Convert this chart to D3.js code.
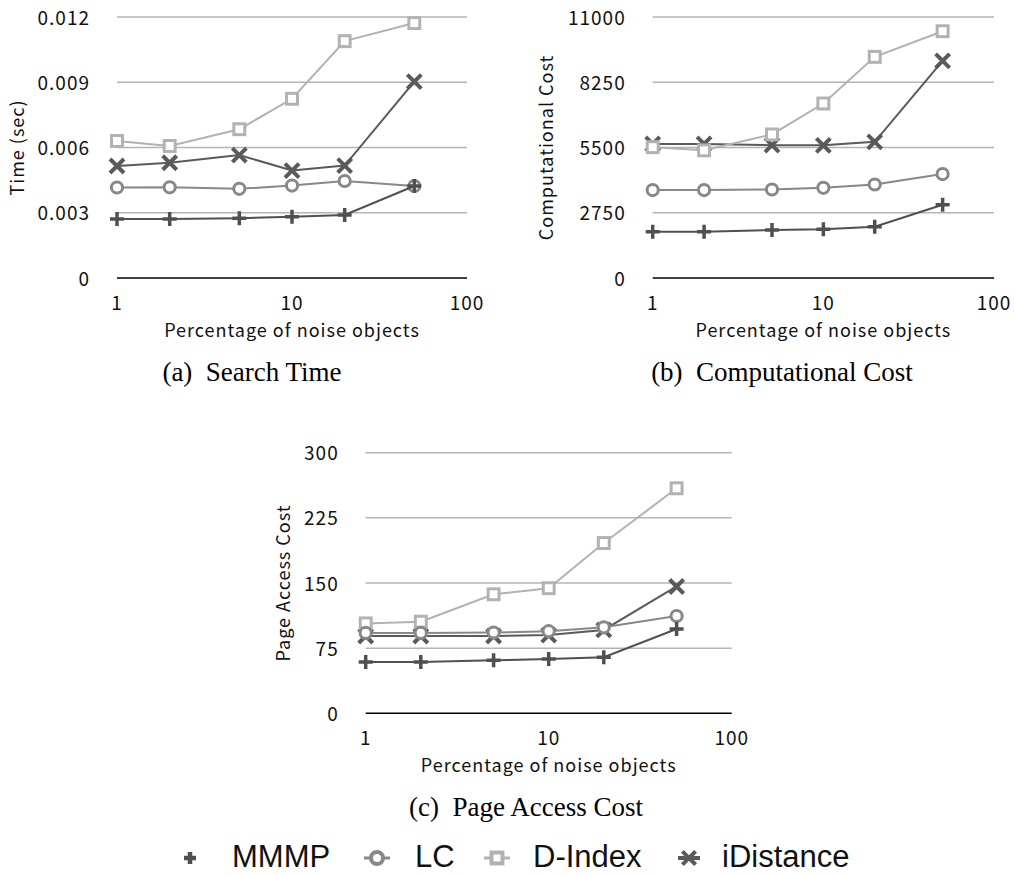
<!DOCTYPE html>
<html>
<head>
<meta charset="utf-8">
<script src="https://cdn.jsdelivr.net/npm/d3@7"></script>
<style>
  body { margin: 0; background: #fff; }
  .tick-label, .axis-title { font-family: "Noto Sans CJK JP", "Noto Sans", sans-serif; fill: #111; letter-spacing: 1px; }
  .caption { font-family: "Liberation Serif", "Times New Roman", serif; fill: #000; }
  .legend-text { font-family: "Liberation Sans", Arial, sans-serif; fill: #111; }
</style>
</head>
<body>
<svg id="fig" width="1014" height="875"></svg>
<script>
// x values shared by all three panels (percentage of noise objects)
const noisePct = [1, 2, 5, 10, 20, 50]
const xTicks = [1, 10, 100]
const seriesNames = ['MMMP', 'LC', 'D-Index', 'iDistance']

// (a) search time in seconds
const timeMMMP = [0.00271, 0.00271, 0.00275, 0.00282, 0.00290, 0.00423]
const timeLC = [0.00416, 0.00417, 0.00410, 0.00425, 0.00446, 0.00423]
const timeDIndex = [0.00630, 0.00607, 0.00684, 0.00824, 0.01089, 0.01172]
const timeIDistance = [0.00515, 0.00530, 0.00565, 0.00494, 0.00517, 0.00903]
const timeTicks = [0, 0.003, 0.006, 0.009, 0.012]

// (b) computational cost
const compMMMP = [1950, 1950, 2020, 2050, 2160, 3090]
const compLC = [3705, 3705, 3730, 3800, 3940, 4380]
const compDIndex = [5515, 5380, 6050, 7355, 9320, 10400]
const compIDistance = [5650, 5650, 5600, 5590, 5740, 9150]
const compTicks = [0, 2750, 5500, 8250, 11000]

// (c) page access cost
const pageMMMP = [59, 59, 61, 62.5, 64.5, 97]
const pageLC = [92.5, 92.5, 93, 94.5, 99, 112]
const pageDIndex = [103.5, 105.5, 137, 144, 196, 259]
const pageIDistance = [89, 89, 89, 90, 96, 146]
const pageTicks = [0, 75, 150, 225, 300]

const styles = {
  'MMMP': { color: '#505050', marker: 'plus' },
  'LC': { color: '#888888', marker: 'circle' },
  'D-Index': { color: '#b2b2b2', marker: 'square' },
  'iDistance': { color: '#5a5a5a', marker: 'cross' }
}
// drawing order, so the overlaps look like the original
const drawOrder = ['iDistance', 'D-Index', 'LC', 'MMMP']

const svg = d3.select('#fig')
svg.append('rect').attr('width', 1014).attr('height', 875).attr('fill', '#fff')

/**
 * Appends one marker at the origin of g.
 */
function drawMarker (g, type, color, size, sw) {
  const s = size
  if (type === 'plus') {
    g.append('path').attr('d', `M${-s},0H${s}M0,${-s}V${s}`)
      .attr('stroke', color).attr('stroke-width', sw || 3.5).attr('fill', 'none')
  } else if (type === 'circle') {
    g.append('circle').attr('r', s * 0.8)
      .attr('stroke', color).attr('stroke-width', sw || 3).attr('fill', '#fff')
  } else if (type === 'square') {
    g.append('rect').attr('x', -s * 0.78).attr('y', -s * 0.78)
      .attr('width', s * 1.56).attr('height', s * 1.56)
      .attr('stroke', color).attr('stroke-width', sw || 3).attr('fill', '#fff')
  } else if (type === 'cross') {
    g.append('path').attr('d', `M${-s},${-s}L${s},${s}M${-s},${s}L${s},${-s}`)
      .attr('stroke', color).attr('stroke-width', sw || 4).attr('fill', 'none')
  } else if (type === 'asterisk') {
    g.append('path').attr('d', `M${-s * 0.6},${-s * 0.6}L${s * 0.6},${s * 0.6}M${-s * 0.6},${s * 0.6}L${s * 0.6},${-s * 0.6}M${-s},0H${s}`)
      .attr('stroke', color).attr('stroke-width', sw || 4).attr('fill', 'none')
  }
}

/**
 * Draws one panel: grid, axes labels, lines and markers.
 */
function drawPanel (p) {
  const x = d3.scaleLog().domain([1, 100]).range([p.left, p.right])
  const y = d3.scaleLinear().domain([0, p.ticks[p.ticks.length - 1]]).range([p.bottom, p.top])
  const g = svg.append('g')

  // horizontal grid
  g.selectAll('.grid').data(p.ticks.slice(1)).enter().append('line')
    .attr('x1', p.left).attr('x2', p.right)
    .attr('y1', d => y(d)).attr('y2', d => y(d))
    .attr('stroke', '#b4b4b4').attr('stroke-width', 1.5)
  g.append('line')
    .attr('x1', p.left).attr('x2', p.right)
    .attr('y1', y(0)).attr('y2', y(0))
    .attr('stroke', '#000').attr('stroke-width', 1.5)

  // y tick labels
  g.selectAll('.ytl').data(p.ticks).enter().append('text')
    .attr('class', 'tick-label')
    .attr('x', p.left - 27).attr('y', d => y(d)).attr('dy', '0.4em')
    .attr('text-anchor', 'end').attr('font-size', 19)
    .text(d => p.fmt(d))

  // x tick labels
  g.selectAll('.xtl').data(xTicks).enter().append('text')
    .attr('class', 'tick-label')
    .attr('x', d => x(d)).attr('y', p.bottom + 32)
    .attr('text-anchor', 'middle').attr('font-size', 19)
    .text(d => d)

  g.append('text').attr('class', 'axis-title')
    .attr('x', (p.left + p.right) / 2).attr('y', p.bottom + 59)
    .attr('text-anchor', 'middle').attr('font-size', 18)
    .text('Percentage of noise objects')

  g.append('text').attr('class', 'axis-title')
    .attr('transform', `translate(${p.left - p.titleGap},${(p.top + p.bottom) / 2}) rotate(-90)`)
    .attr('dy', '0.35em')
    .attr('text-anchor', 'middle').attr('font-size', 18)
    .text(p.yTitle)

  const line = d3.line().x(d => x(d[0])).y(d => y(d[1]))

  drawOrder.forEach(name => {
    const st = styles[name]
    const pts = noisePct.map((v, i) => [v, p.values[name][i]])
    g.append('path').datum(pts).attr('d', line)
      .attr('fill', 'none').attr('stroke', st.color).attr('stroke-width', 2)
    pts.forEach(d => {
      const m = g.append('g').attr('transform', `translate(${x(d[0])},${y(d[1])})`)
      drawMarker(m, st.marker, st.color, 7)
    })
  })

  svg.append('text').attr('class', 'caption')
    .attr('x', p.capX).attr('y', p.bottom + 103)
    .attr('text-anchor', 'middle').attr('font-size', 27)
    .attr('xml:space', 'preserve')
    .text(p.caption)
}

drawPanel({
  left: 117, right: 467, top: 17, bottom: 278, titleGap: 99,
  ticks: timeTicks, fmt: d => d === 0 ? '0' : d3.format('.3f')(d),
  yTitle: 'Time (sec)', caption: '(a)  Search Time', capX: 252,
  values: { 'MMMP': timeMMMP, 'LC': timeLC, 'D-Index': timeDIndex, 'iDistance': timeIDistance }
})

drawPanel({
  left: 652.7, right: 994, top: 17, bottom: 278, titleGap: 106,
  ticks: compTicks, fmt: d => d,
  yTitle: 'Computational Cost', caption: '(b)  Computational Cost', capX: 782,
  values: { 'MMMP': compMMMP, 'LC': compLC, 'D-Index': compDIndex, 'iDistance': compIDistance }
})

drawPanel({
  left: 365.7, right: 731.7, top: 452.7, bottom: 713.3, titleGap: 82,
  ticks: pageTicks, fmt: d => d,
  yTitle: 'Page Access Cost', caption: '(c)  Page Access Cost', capX: 526,
  values: { 'MMMP': pageMMMP, 'LC': pageLC, 'D-Index': pageDIndex, 'iDistance': pageIDistance }
})

// legend
const legendX = [190, 377, 497, 689]
const legendTextX = [232, 415, 533, 722]
const legendMarker = ['plus', 'circle', 'square', 'asterisk']
const lg = svg.append('g')
seriesNames.forEach((name, i) => {
  const c = styles[name].color
  const m = lg.append('g').attr('transform', `translate(${legendX[i]},858)`)
  if (i === 1 || i === 2) {
    m.append('line').attr('x1', -13).attr('x2', 13).attr('stroke', c).attr('stroke-width', 3)
  }
  const size = [6, 7.5, 7, 11][i]
  drawMarker(m, legendMarker[i], c, size, i === 0 ? 4.5 : 4)
  lg.append('text').attr('class', 'legend-text')
    .attr('x', legendTextX[i]).attr('y', 867)
    .attr('font-size', 31)
    .text(name)
})
</script>
</body>
</html>
